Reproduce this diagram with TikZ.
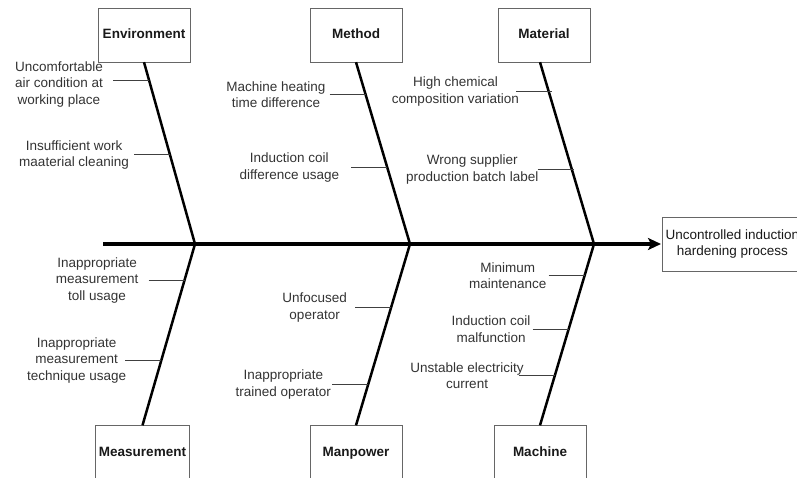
\documentclass[tikz,border=0pt]{standalone}
\usepackage{fontspec}
\setmainfont{Liberation Sans}
\usetikzlibrary{arrows.meta, positioning, calc}
\newcommand{\fsize}{\fontsize{13.5}{16.5}\selectfont}
\tikzset{
    cat/.style={draw=black!60, minimum width=92pt, minimum height=54pt, text height=10pt, text depth=3pt, font=\fsize\bfseries, text=black!90},
    cause/.style={align=center, inner sep=0pt, font=\fsize, text=black!80},
    bone/.style={line width=2.5pt},
    rib/.style={draw=black!75, line width=1pt},
}
\begin{document}
\begin{tikzpicture}[x=1pt, y=-1pt]
    \useasboundingbox (0,0) rectangle (797,478);

    \node[cat] (env) at (144,35) {Environment};
    \node[cat] (meth) at (356,35) {Method};
    \node[cat] (mat) at (544,35) {Material};
    \node[cat] (meas) at (142.5,452.5) {Measurement};
    \node[cat] (man) at (356,452.5) {Manpower};
    \node[cat] (mach) at (540,452.5) {Machine};
    \node[cat, font=\fsize, align=center, anchor=west, minimum width=140pt, text height=, text depth=] (eff) at (662,244) {Uncontrolled induction\\hardening process};

    \coordinate (tail) at (103,244);
    \coordinate (j1) at (195,244);
    \coordinate (j2) at (410,244);
    \coordinate (j3) at (594,244);

    \draw[line width=3.5pt, -{Stealth[length=13pt, width=12pt, inset=3pt]}, shorten >=1pt] (tail) -- (eff.west);
    \draw[bone] (env.south) -- (j1) -- (meas.north);
    \draw[bone] (meth.south) -- (j2) -- (man.north);
    \draw[bone] ($(mat.south)+(-4,0)$) -- (j3) -- (mach.north);

    \coordinate (r1) at ($(env.south)!0.10!(j1)$);
    \coordinate (r2) at ($(env.south)!0.51!(j1)$);
    \coordinate (r3) at ($(meth.south)!0.18!(j2)$);
    \coordinate (r4) at ($(meth.south)!0.58!(j2)$);
    \coordinate (r5) at ($(mat.south)!0.16!(j3)$);
    \coordinate (r6) at ($(mat.south)!0.59!(j3)$);
    \coordinate (r7) at ($(j1)!0.20!(meas.north)$);
    \coordinate (r8) at ($(j1)!0.64!(meas.north)$);
    \coordinate (r9) at ($(j2)!0.35!(man.north)$);
    \coordinate (r10) at ($(j2)!0.775!(man.north)$);
    \coordinate (r11) at ($(j3)!0.175!(mach.north)$);
    \coordinate (r12) at ($(j3)!0.47!(mach.north)$);
    \coordinate (r13) at ($(j3)!0.725!(mach.north)$);

    \node[cause, left=46pt of r1, yshift=-4pt] (c1) {Uncomfortable\\air condition at\\working place};
    \node[cause, left=41pt of r2] (c2) {Insufficient work\\maaterial cleaning};
    \node[cause, left=40pt of r3] (c3) {Machine heating\\time difference};
    \node[cause, left=48pt of r4] (c4) {Induction coil\\difference usage};
    \node[cause, left=33pt of r5] (c5) {High chemical\\composition variation};
    \node[cause, left=35pt of r6] (c6) {Wrong supplier\\production batch label};
    \node[cause, left=46pt of r7] (c7) {Inappropriate\\measurement\\toll usage};
    \node[cause, left=35pt of r8] (c8) {Inappropriate\\measurement\\technique usage};
    \node[cause, left=44pt of r9] (c9) {Unfocused\\operator};
    \node[cause, left=37pt of r10] (c10) {Inappropriate\\trained operator};
    \node[cause, left=38pt of r11] (c11) {Minimum\\maintenance};
    \node[cause, left=38pt of r12] (c12) {Induction coil\\malfunction};
    \node[cause, left=31pt of r13] (c13) {Unstable electricity\\current};

    \foreach \i/\g in {1/10, 2/5, 3/4, 4/12, 5/-3, 6/-1, 7/10, 8/-1, 9/8, 10/1, 11/2, 12/2, 13/-5}
        \draw[rib, shorten <=\g pt] (c\i.east |- r\i) -- (r\i);
\end{tikzpicture}
\end{document}
